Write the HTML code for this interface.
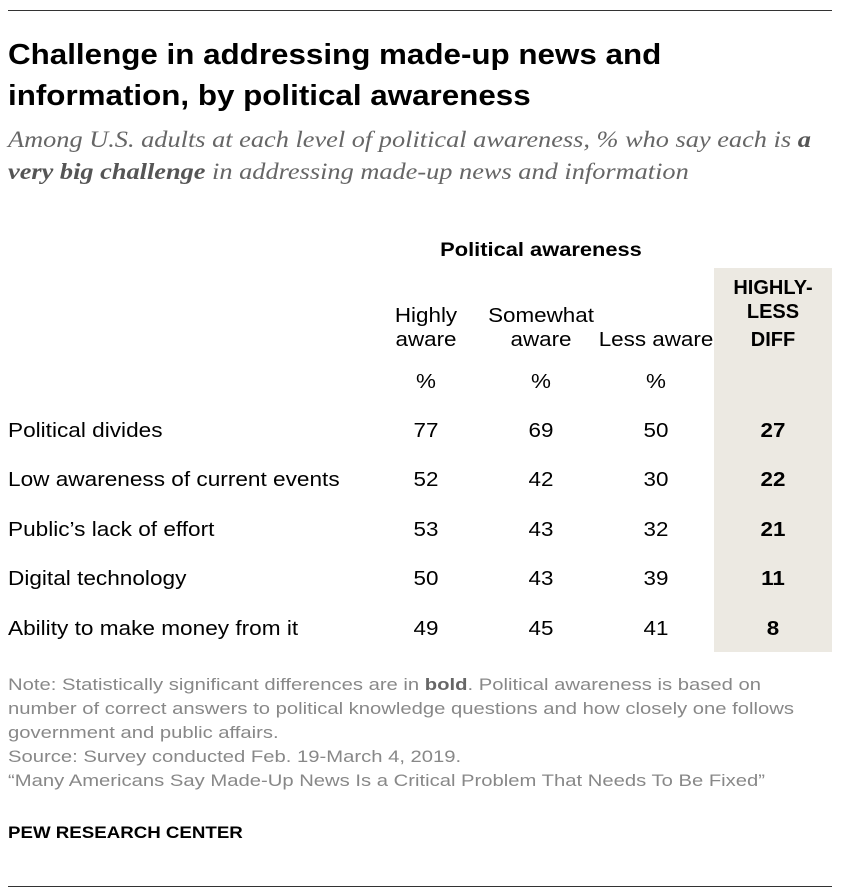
<!DOCTYPE html>
<html><head><meta charset="utf-8"><style>
body{margin:0;width:842px;height:896px;background:#fff;position:relative;font-family:"Liberation Sans",Arial,sans-serif;color:#000;overflow:hidden}
.a{position:absolute;white-space:nowrap;transform-origin:0 0}
.l{transform:scaleX(1.13)}
.c{transform:translateX(-50%) scaleX(1.12);transform-origin:50% 0;text-align:center}
.r{font-size:20px;line-height:24px}
.n{font-size:17px;color:#888;line-height:24px;transform:scaleX(1.19)}
</style></head><body>
<div class="a" style="left:8px;top:10px;width:824px;border-top:1px solid #333"></div>
<div class="a" style="left:8px;top:886px;width:824px;border-top:1px solid #333"></div>
<div class="a" style="left:8px;top:35px;font-size:28.5px;font-weight:bold;line-height:41px;transform:scaleX(1.1)">Challenge in addressing made-up news and<br>information, by political awareness</div>
<div class="a" style="left:8px;top:124px;font-family:'Liberation Serif',serif;font-style:italic;font-size:23px;color:#666;line-height:32px;transform:scaleX(1.145)">Among U.S. adults at each level of political awareness, % who say each is <b style="color:#555">a</b><br><b style="color:#555">very big challenge</b> in addressing made-up news and information</div>
<div class="a" style="left:714px;top:268px;width:118px;height:384px;background:#ece9e2"></div>
<div class="a c" style="left:541px;top:240px;font-size:19px;font-weight:bold;transform:translateX(-50%) scaleX(1.15)">Political awareness</div>
<div class="a c r" style="left:426px;top:304px">Highly<br>aware</div>
<div class="a c r" style="left:541px;top:304px">Somewhat<br>aware</div>
<div class="a c r" style="left:656px;top:328px">Less aware</div>
<div class="a c" style="left:773px;top:276px;font-size:20px;font-weight:bold;line-height:24px;transform:translateX(-50%)">HIGHLY-<br>LESS</div>
<div class="a c" style="left:773px;top:328px;font-size:20px;font-weight:bold;line-height:24px;transform:translateX(-50%)">DIFF</div>
<div class="a c r" style="left:426px;top:370px">%</div>
<div class="a c r" style="left:541px;top:370px">%</div>
<div class="a c r" style="left:656px;top:370px">%</div>

<div class="a r l" style="left:8px;top:419px">Political divides</div>
<div class="a c r" style="left:426px;top:419px">77</div><div class="a c r" style="left:541px;top:419px">69</div><div class="a c r" style="left:656px;top:419px">50</div><div class="a c r" style="left:773px;top:419px;font-weight:bold">27</div>
<div class="a r l" style="left:8px;top:468px">Low awareness of current events</div>
<div class="a c r" style="left:426px;top:468px">52</div><div class="a c r" style="left:541px;top:468px">42</div><div class="a c r" style="left:656px;top:468px">30</div><div class="a c r" style="left:773px;top:468px;font-weight:bold">22</div>
<div class="a r l" style="left:8px;top:518px">Public’s lack of effort</div>
<div class="a c r" style="left:426px;top:518px">53</div><div class="a c r" style="left:541px;top:518px">43</div><div class="a c r" style="left:656px;top:518px">32</div><div class="a c r" style="left:773px;top:518px;font-weight:bold">21</div>
<div class="a r l" style="left:8px;top:567px">Digital technology</div>
<div class="a c r" style="left:426px;top:567px">50</div><div class="a c r" style="left:541px;top:567px">43</div><div class="a c r" style="left:656px;top:567px">39</div><div class="a c r" style="left:773px;top:567px;font-weight:bold">11</div>
<div class="a r l" style="left:8px;top:617px">Ability to make money from it</div>
<div class="a c r" style="left:426px;top:617px">49</div><div class="a c r" style="left:541px;top:617px">45</div><div class="a c r" style="left:656px;top:617px">41</div><div class="a c r" style="left:773px;top:617px;font-weight:bold">8</div>

<div class="a n" style="left:8px;top:673px">Note: Statistically significant differences are in <b style="color:#666">bold</b>. Political awareness is based on<br>number of correct answers to political knowledge questions and how closely one follows<br>government and public affairs.<br>Source: Survey conducted Feb. 19-March 4, 2019.<br>“Many Americans Say Made-Up News Is a Critical Problem That Needs To Be Fixed”</div>
<div class="a" style="left:8px;top:823px;font-size:17px;font-weight:bold;transform:scaleX(1.1)">PEW RESEARCH CENTER</div>
</body></html>
